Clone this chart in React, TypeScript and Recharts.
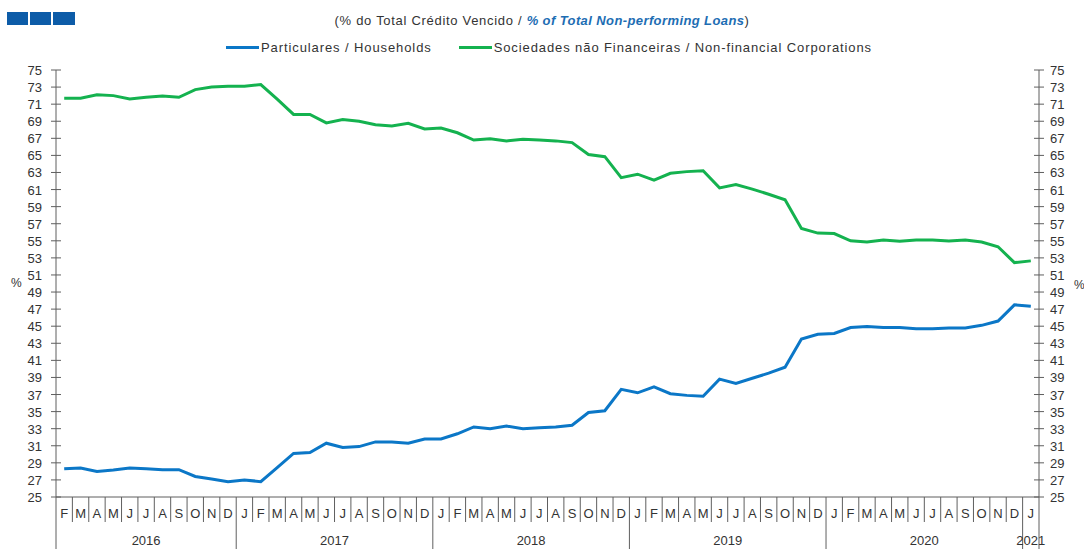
import React from "react";
import { LineChart, Line, XAxis, YAxis, Legend } from "recharts";

const months = [
  "F","M","A","M","J","J","A","S","O","N","D",
  "J","F","M","A","M","J","J","A","S","O","N","D",
  "J","F","M","A","M","J","J","A","S","O","N","D",
  "J","F","M","A","M","J","J","A","S","O","N","D",
  "J","F","M","A","M","J","J","A","S","O","N","D",
  "J",
];
const years = [
  ...Array(11).fill("2016"),
  ...Array(12).fill("2017"),
  ...Array(12).fill("2018"),
  ...Array(12).fill("2019"),
  ...Array(12).fill("2020"),
  "2021",
];
const households = [
  28.3, 28.4, 28.0, 28.15, 28.4, 28.3, 28.2, 28.2, 27.4, 27.1, 26.8,
  27.0, 26.8, 28.45, 30.1, 30.2, 31.3, 30.8, 30.9, 31.45, 31.45, 31.3, 31.8,
  31.8, 32.4, 33.2, 33.0, 33.3, 33.0, 33.1, 33.2, 33.4, 34.9, 35.1, 37.6,
  37.2, 37.9, 37.1, 36.9, 36.8, 38.8, 38.3, 38.9, 39.5, 40.2, 43.5, 44.05,
  44.15, 44.85, 44.95, 44.85, 44.85, 44.7, 44.7, 44.8, 44.8, 45.1, 45.6, 47.5,
  47.35,
];
const corporations = [
  71.7, 71.7, 72.1, 72.0, 71.6, 71.8, 71.95, 71.8, 72.7, 73.0, 73.1,
  73.1, 73.3, 71.6, 69.8, 69.8, 68.8, 69.2, 69.0, 68.6, 68.45, 68.75, 68.1,
  68.2, 67.65, 66.8, 66.95, 66.7, 66.9, 66.8, 66.7, 66.5, 65.1, 64.85, 62.4,
  62.8, 62.1, 62.9, 63.1, 63.2, 61.2, 61.6, 61.05, 60.45, 59.8, 56.45, 55.9,
  55.85, 55.0, 54.85, 55.1, 54.95, 55.1, 55.1, 54.98, 55.1, 54.85, 54.3, 52.45,
  52.65,
];
const yTicks = [25,27,29,31,33,35,37,39,41,43,45,47,49,51,53,55,57,59,61,63,65,67,69,71,73,75];

const seriesNames = {
  households: "Particulares / Households",
  corporations: "Sociedades não Financeiras / Non-financial Corporations",
};
const titleLeft = "(% do Total Crédito Vencido / ";
const titleEm = "% of Total Non-performing Loans";
const titleRight = ")";

const BLUE = "#0b77c7";
const GREEN = "#14b24f";
const AXIS = "#5f5f5f";
const TEXT = "#333333";
const FONT = "'Liberation Sans', Arial, sans-serif";

const W = 1084;
const H = 549;
const MARGIN = { top: 70, right: 5, bottom: 0, left: 16 };
const YW = 40;
const XH = 52;
const PLOT_W = W - MARGIN.left - MARGIN.right - 2 * YW;

const data = months.map((m, i) => ({
  key: `${m}-${i}`,
  month: m,
  year: years[i],
  households: households[i],
  corporations: corporations[i],
}));

const BW = PLOT_W / data.length;

const MonthTick = (props: any) => {
  const { x, y, payload } = props;
  const i = payload.index;
  const d = data[i];
  const left = x - BW / 2;
  const right = x + BW / 2;
  const yearStart = i === 0 || data[i - 1].year !== d.year;
  const isLast = i === data.length - 1;
  let yearLabel = null;
  if (yearStart) {
    const n = data.filter((e) => e.year === d.year).length;
    yearLabel = (
      <text x={left + (n * BW) / 2} y={y + 48} textAnchor="middle" fill={TEXT} fontSize={13} fontFamily={FONT}>
        {d.year}
      </text>
    );
  }
  return (
    <g>
      <line x1={left} x2={left} y1={y} y2={yearStart ? y + 52 : y + 25} stroke={AXIS} strokeWidth={1} />
      {isLast && <line x1={right} x2={right} y1={y} y2={y + 52} stroke={AXIS} strokeWidth={1} />}
      <text x={x} y={y + 21} textAnchor="middle" fill={TEXT} fontSize={13} fontFamily={FONT}>
        {d.month}
      </text>
      {yearLabel}
    </g>
  );
};

const LeftTick = (props: any) => {
  const { x, y, payload } = props;
  const ax = x + 14;
  return (
    <g>
      <line x1={ax - 5} x2={ax + 5} y1={y} y2={y} stroke={AXIS} strokeWidth={1} />
      <text x={x} y={y + 5} textAnchor="end" fill={TEXT} fontSize={13} fontFamily={FONT}>
        {payload.value}
      </text>
    </g>
  );
};

const RightTick = (props: any) => {
  const { x, y, payload } = props;
  const ax = x - 11;
  return (
    <g>
      <line x1={ax - 5} x2={ax + 5} y1={y} y2={y} stroke={AXIS} strokeWidth={1} />
      <text x={x} y={y + 5} textAnchor="start" fill={TEXT} fontSize={13} fontFamily={FONT}>
        {payload.value}
      </text>
    </g>
  );
};

const LegendContent = (props: any) => {
  const items = (props.payload || []).filter((it: any) => it.type !== "none");
  return (
    <div style={{ display: "flex", justifyContent: "center", paddingLeft: 14, fontFamily: FONT, fontSize: 13, color: TEXT }}>
      {items.map((it: any, idx: number) => (
        <div key={idx} style={{ display: "flex", alignItems: "center", marginRight: idx === 0 ? 27 : 0 }}>
          <div style={{ width: 33, height: 3, background: it.color, marginRight: 2 }} />
          <span style={{ letterSpacing: 0.9 }}>{it.value}</span>
        </div>
      ))}
    </div>
  );
};

export default function App() {
  return (
    <div style={{ position: "absolute", left: 0, top: 0, width: W, height: H, background: "#fff" }}>
      <div style={{ position: "absolute", left: 7, top: 12, display: "flex", gap: 2 }}>
        <div style={{ width: 21, height: 13, background: "#0d5ca8" }} />
        <div style={{ width: 21, height: 13, background: "#0d5ca8" }} />
        <div style={{ width: 22, height: 13, background: "#0d5ca8" }} />
      </div>
      <div
        style={{
          position: "absolute",
          left: 0,
          top: 13,
          width: W,
          textAlign: "center",
          fontFamily: FONT,
          fontSize: 13,
          color: TEXT,
          letterSpacing: 0.7,
          whiteSpace: "pre",
        }}
      >
        {titleLeft}
        <span style={{ color: "#1d6db3", fontWeight: "bold", fontStyle: "italic", letterSpacing: 0.4 }}>{titleEm}</span>
        {titleRight}
      </div>
      <div style={{ position: "absolute", left: 11, top: 276, fontFamily: FONT, fontSize: 12, color: TEXT }}>%</div>
      <div style={{ position: "absolute", left: 1074, top: 278, fontFamily: FONT, fontSize: 12, color: TEXT }}>%</div>
      <LineChart width={W} height={H} data={data} margin={MARGIN}>
        <XAxis
          dataKey="key"
          scale="band"
          interval={0}
          height={XH}
          tickSize={0}
          tickMargin={0}
          tickLine={false}
          axisLine={{ stroke: AXIS }}
          tick={<MonthTick />}
        />
        <YAxis
          yAxisId="left"
          orientation="left"
          width={YW}
          type="number"
          domain={[25, 75]}
          allowDataOverflow
          ticks={yTicks}
          interval={0}
          tickSize={5}
          tickMargin={9}
          tickLine={false}
          axisLine={{ stroke: AXIS }}
          tick={<LeftTick />}
        />
        <YAxis
          yAxisId="right"
          orientation="right"
          width={YW}
          type="number"
          domain={[25, 75]}
          allowDataOverflow
          ticks={yTicks}
          interval={0}
          tickSize={5}
          tickMargin={6}
          tickLine={false}
          axisLine={{ stroke: AXIS }}
          tick={<RightTick />}
        />
        <Legend
          verticalAlign="middle"
          align="center"
          layout="horizontal"
          wrapperStyle={{ top: 40, left: 0, width: W }}
          content={<LegendContent />}
        />
        <Line
          yAxisId="left"
          type="linear"
          dataKey="households"
          name={seriesNames.households}
          stroke={BLUE}
          strokeWidth={3}
          dot={false}
          isAnimationActive={false}
        />
        <Line
          yAxisId="left"
          type="linear"
          dataKey="corporations"
          name={seriesNames.corporations}
          stroke={GREEN}
          strokeWidth={3}
          dot={false}
          isAnimationActive={false}
        />
        <Line
          yAxisId="right"
          type="linear"
          dataKey="corporations"
          stroke="none"
          strokeWidth={0}
          legendType="none"
          dot={false}
          activeDot={false}
          isAnimationActive={false}
        />
      </LineChart>
    </div>
  );
}
